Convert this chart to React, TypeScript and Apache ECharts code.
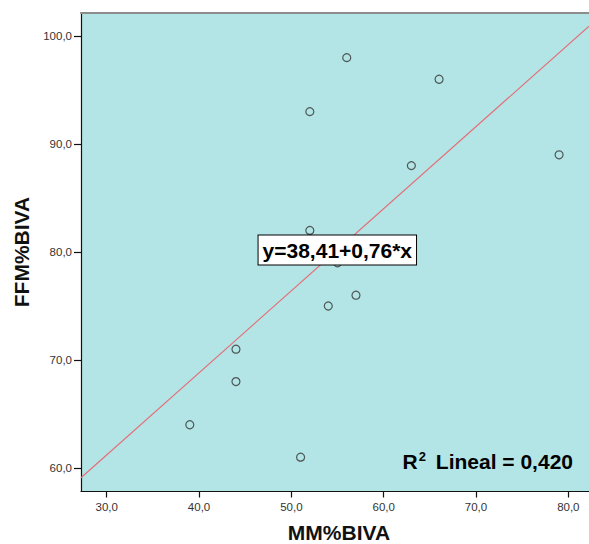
import React, { useEffect, useRef } from "react";
import * as echarts from "echarts";

const mmValues = [56, 66, 52, 63, 79, 52, 55, 54, 57, 44, 44, 39, 51];
const ffmValues = [98, 96, 93, 88, 89, 82, 79, 75, 76, 71, 68, 64, 61];
const xTicks = [30, 40, 50, 60, 70, 80];
const yTicks = [60, 70, 80, 90, 100];
const fitIntercept = 38.41;
const fitSlope = 0.76;
const r2 = "0,420";

const X_MIN = 27.216;
const X_MAX = 82.24;
const Y_MIN = 57.82;
const Y_MAX = 102.18;

const FONT = "'Liberation Sans', Arial, Helvetica, sans-serif";
const fmt = (v: number) => v.toFixed(1).replace(".", ",");

export default function App() {
  const ref = useRef<HTMLDivElement>(null);
  useEffect(() => {
    if (!ref.current) return;
    const chart = echarts.init(ref.current, undefined, { renderer: "svg" });
    const points = mmValues.map((x, i) => [x, ffmValues[i]]);
    const fit = [
      [X_MIN, fitIntercept + fitSlope * X_MIN],
      [X_MAX, fitIntercept + fitSlope * X_MAX],
    ];
    chart.setOption({
      animation: false,
      backgroundColor: "#ffffff",
      textStyle: { fontFamily: FONT },
      grid: {
        left: 81,
        top: 12.5,
        width: 508,
        height: 479,
        show: true,
        backgroundColor: "#b4e5e6",
        borderWidth: 0,
        containLabel: false,
        outerBoundsMode: "none",
      },
      xAxis: [
        {
          type: "value",
          min: X_MIN,
          max: X_MAX,
          position: "bottom",
          name: "MM%BIVA",
          nameLocation: "middle",
          nameGap: 30,
          nameTextStyle: { fontFamily: FONT, fontWeight: "bold", fontSize: 21, color: "#111", padding: [0, 0, 0, 8] },
          axisLine: { show: true, onZero: false, lineStyle: { color: "#111", width: 1.2 } },
          axisTick: { show: true, length: 6, customValues: xTicks, lineStyle: { color: "#111", width: 1.2 } },
          axisLabel: {
            customValues: xTicks,
            formatter: (v: number) => fmt(v),
            fontSize: 11.5,
            color: "#333",
            margin: 9,
            fontFamily: FONT,
          },
          splitLine: { show: false },
        },
        {
          type: "value",
          min: X_MIN,
          max: X_MAX,
          position: "top",
          axisLine: { show: true, onZero: false, lineStyle: { color: "#8c8c8c", width: 2 } },
          axisTick: { show: false },
          axisLabel: { show: false },
          splitLine: { show: false },
        },
      ],
      yAxis: {
        type: "value",
        min: Y_MIN,
        max: Y_MAX,
        name: "FFM%BIVA",
        nameLocation: "middle",
        nameGap: 48,
        nameTextStyle: { fontFamily: FONT, fontWeight: "bold", fontSize: 21, color: "#111" },
        axisLine: { show: true, onZero: false, lineStyle: { color: "#111", width: 1.2 } },
        axisTick: { show: true, length: 7, customValues: yTicks, lineStyle: { color: "#111", width: 1.2 } },
        axisLabel: {
          customValues: yTicks,
          formatter: (v: number) => fmt(v),
          fontSize: 11.5,
          color: "#333",
          margin: 9,
          fontFamily: FONT,
        },
        splitLine: { show: false },
      },
      series: [
        {
          type: "line",
          data: fit,
          symbol: "none",
          lineStyle: { color: "#e3707a", width: 1.2 },
          z: 2,
          silent: true,
        },
        {
          type: "scatter",
          data: points,
          symbol: "circle",
          symbolSize: 8,
          itemStyle: { color: "rgba(0,0,0,0)", borderColor: "#333", borderWidth: 1.2 },
          z: 3,
        },
      ],
      graphic: [
        {
          type: "text",
          z: 100,
          x: 337.3,
          y: 250,
          style: {
            text: "y=38,41+0,76*x",
            font: `bold 21px ${FONT}`,
            fill: "#000",
            align: "center",
            verticalAlign: "middle",
            backgroundColor: "#ffffff",
            borderColor: "#000",
            borderWidth: 1,
            padding: [4, 4, 4, 4],
          },
        },
        {
          type: "text",
          z: 100,
          x: 573,
          y: 461,
          style: {
            text: `{r|R}{s|2}{r| Lineal = ${r2}}`,
            align: "right",
            verticalAlign: "middle",
            rich: {
              r: { font: `bold 21px ${FONT}`, fill: "#000", fontWeight: "bold", fontSize: 21, fontFamily: FONT },
              s: { font: `bold 13px ${FONT}`, fill: "#000", fontWeight: "bold", fontSize: 13, fontFamily: FONT, verticalAlign: "top", padding: [0, 4, 10, 1] },
            },
          },
        },
      ],
    });
    return () => chart.dispose();
  }, []);
  return <div ref={ref} style={{ position: "fixed", left: 0, top: 0, width: 589, height: 544 }} />;
}
